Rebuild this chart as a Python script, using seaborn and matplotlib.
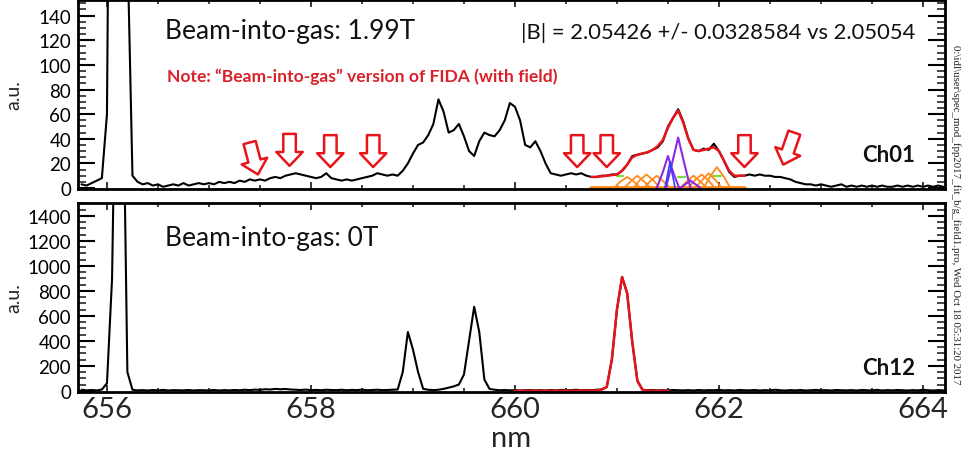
import numpy as np
import pandas as pd
import matplotlib
matplotlib.use("Agg")
import matplotlib.pyplot as plt
from matplotlib.ticker import MultipleLocator
import seaborn as sns

# ---------------- data ----------------
wl_start, wl_step = 655.75, 0.05

top_counts = [
    3, 2, 4, 6, 8, 60, 600, 1500, 1200, 200,
    10, 5, 3, 4, 2, 3, 1, 2, 3, 2,
    4, 2, 3, 4, 3, 4, 3, 5, 4, 5,
    4, 6, 5, 7, 6, 7, 6, 8, 9, 8,
    10, 11, 12, 11, 10, 9, 8, 9, 12, 8,
    7, 6, 7, 6, 7, 8, 9, 10, 12, 11,
    10, 11, 10, 14, 20, 28, 35, 37, 43, 52,
    72, 62, 45, 47, 52, 42, 30, 26, 38, 45,
    43, 42, 47, 55, 69, 66, 55, 35, 33, 38,
    30, 20, 12, 11, 10, 11, 12, 11, 12, 10,
    9, 9, 10, 10, 11, 11, 14, 19, 26, 27,
    28, 29, 31, 33, 38, 50, 57, 64, 54, 40,
    31, 30, 32, 31, 36, 30, 22, 13, 9, 10,
    10, 11, 10, 11, 10, 10, 9, 9, 8, 7,
    5, 4, 3, 3, 2, 3, 2, 1, 2, 3,
    1, 2, 1, 2, 1, 2, 1, 2, 1, 1,
    2, 1, 2, 1, 2, 1, 2, 1, 2, 1,
]

bot_counts = [
    8, 3, 6, 2, 10, 60, 900, 3500, 3000, 150,
    8, 3, 5, 2, 6, 3, 7, 2, 5, 4,
    3, 6, 2, 5, 4, 3, 6, 2, 5, 3,
    6, 4, 8, 5, 9, 7, 12, 10, 15, 12,
    14, 10, 8, 6, 9, 5, 7, 4, 8, 6,
    5, 8, 4, 7, 5, 9, 4, 6, 8, 5,
    6, 8, 10, 150, 470, 330, 150, 15, 8, 5,
    8, 15, 25, 35, 50, 130, 400, 672, 470, 90,
    15, 8, 4, 6, 3, 5, 2, 4, 6, 3,
    5, 2, 6, 3, 7, 4, 5, 8, 3, 6,
    5, 8, 10, 30, 250, 650, 910, 780, 390, 80,
    8, 4, 6, 3, 5, 2, 6, 4, 3, 5,
    2, 6, 3, 5, 4, 7, 3, 5, 2, 6,
    4, 3, 6, 2, 5, 3, 8, 4, 2, 5,
    3, 6, 2, 4, 7, 3, 5, 2, 6, 4,
    3, 5, 2, 6, 4, 3, 7, 2, 5, 3,
    6, 4, 2, 5, 3, 8, 4, 2, 5, 3,
]

# fit in top panel (red)
fit_top_wl = [660.75, 660.80, 660.85, 660.90, 660.95, 661.00, 661.05, 661.10, 661.15, 661.20,
              661.25, 661.30, 661.35, 661.40, 661.45, 661.50, 661.55, 661.60, 661.65, 661.70,
              661.75, 661.80, 661.85, 661.90, 661.95, 662.00, 662.05, 662.10, 662.15, 662.20, 662.25]
fit_top_val = [9, 9, 9.5, 10, 10.5, 11, 14, 19, 25, 27,
               28, 29, 31, 34, 39, 49, 57, 63, 53, 40,
               31, 30, 31, 32, 33, 30, 22, 14, 10, 10, 10]

# fit baseline (orange)
base_wl = [660.75, 662.25]
base_val = [0, 0]

# orange components
orange_wl = [
    [660.97, 661.03, 661.10, 661.17, 661.23],
    [661.07, 661.13, 661.20, 661.27, 661.33],
    [661.16, 661.22, 661.29, 661.36, 661.42],
    [661.26, 661.32, 661.39, 661.46, 661.52],
    [661.62, 661.68, 661.75, 661.82, 661.88],
    [661.70, 661.76, 661.83, 661.90, 661.96],
    [661.77, 661.83, 661.90, 661.97, 662.03],
    [661.85, 661.91, 661.98, 662.05, 662.11],
]
orange_val = [
    [0, 5, 9, 5, 0],
    [0, 5, 10, 5, 0],
    [0, 6, 11, 6, 0],
    [0, 5, 10, 5, 0],
    [0, 5, 10, 5, 0],
    [0, 6, 11, 6, 0],
    [0, 6, 12, 6, 0],
    [0, 9, 17, 9, 0],
]

# purple components
purple_wl = [
    [661.39, 661.45, 661.50, 661.55, 661.61],
    [661.48, 661.54, 661.60, 661.66, 661.72],
    [661.62, 661.67, 661.72, 661.77, 661.82],
]
purple_val = [
    [0, 13, 26, 13, 0],
    [0, 20, 41, 20, 0],
    [0, 3, 6, 3, 0],
]

# blue component
blue_wl = [661.47, 661.52, 661.57]
blue_val = [0, 21, 0]

# green segments
green_wl = [661.00, 661.06, np.nan, 661.60, 661.67, np.nan, 661.94, 662.02]
green_val = [10, 10, np.nan, 9, 9, np.nan, 10, 10]

# fit in bottom panel (red)
fit_bot_wl = [660.00, 660.20, 660.40, 660.60, 660.80, 660.85, 660.90, 660.95, 661.00, 661.05,
              661.10, 661.15, 661.20, 661.25, 661.30, 661.50]
fit_bot_val = [0, 0, 0, 0, 2, 10, 30, 250, 650, 910, 780, 390, 80, 8, 0, 0]

# arrow markers (tip positions)
arrow_wl = [657.48, 657.79, 658.19, 658.61, 660.61, 660.90, 662.25, 662.63]
arrow_val = [11, 18, 17, 17, 17, 17, 17, 19]
arrow_tilt = [-6, 0, 0, 0, 0, 0, 0, 8]   # horizontal offset of the arrow tail (points)

x_ticks = [656, 658, 660, 662, 664]

wl = wl_start + wl_step * np.arange(len(top_counts))
df_top = pd.DataFrame({"nm": wl, "au": top_counts})
df_bot = pd.DataFrame({"nm": wl, "au": bot_counts})

# ---------------- style ----------------
sns.set_style("white")
plt.rcParams["font.family"] = ["Lato", "DejaVu Sans"]

W, H = 964, 460
fig = plt.figure(figsize=(W / 100, H / 100), dpi=100)

def axbox(x0, y0, x1, y1):
    return [x0 / W, 1 - y1 / H, (x1 - x0) / W, (y1 - y0) / H]

ax1 = fig.add_axes(axbox(78, 1, 945, 190))
ax2 = fig.add_axes(axbox(78, 204, 945, 393))

RED = "#e8141c"
ORANGE = "#ff8a1c"
PURPLE = "#8a2be2"

# top panel
sns.lineplot(data=df_top, x="nm", y="au", ax=ax1, color="black", lw=1.5, estimator=None)
sns.lineplot(x=base_wl, y=base_val, ax=ax1, color=ORANGE, lw=3.5, estimator=None)
ax1.plot(green_wl, green_val, color="#7ddc3a", lw=1.6)
for xs, ys in zip(orange_wl, orange_val):
    sns.lineplot(x=xs, y=ys, ax=ax1, color=ORANGE, lw=1.3, estimator=None)
for xs, ys in zip(purple_wl, purple_val):
    sns.lineplot(x=xs, y=ys, ax=ax1, color=PURPLE, lw=1.5, estimator=None)
sns.lineplot(x=blue_wl, y=blue_val, ax=ax1, color="#3040ff", lw=1.2, estimator=None)
sns.lineplot(x=fit_top_wl, y=fit_top_val, ax=ax1, color=RED, lw=1.8, estimator=None)

for xw, yv, dx in zip(arrow_wl, arrow_val, arrow_tilt):
    ax1.annotate("", xy=(xw, yv), xytext=(dx, 23), textcoords="offset points",
                 arrowprops=dict(arrowstyle="simple,head_length=0.5,head_width=0.95,tail_width=0.45",
                                 mutation_scale=20, fc="white", ec=RED, lw=1.8,
                                 shrinkA=0, shrinkB=0))

# bottom panel
sns.lineplot(data=df_bot, x="nm", y="au", ax=ax2, color="black", lw=1.5, estimator=None)
sns.lineplot(x=fit_bot_wl, y=fit_bot_val, ax=ax2, color=RED, lw=1.8, estimator=None)

for ax, ylim, major, minor in [(ax1, (-0.8, 152.7), 20, 5), (ax2, (-10, 1502), 200, 50)]:
    ax.set_xlim(655.716, 664.216)
    ax.set_ylim(*ylim)
    ax.xaxis.set_major_locator(MultipleLocator(2))
    ax.xaxis.set_minor_locator(MultipleLocator(0.5))
    ax.yaxis.set_major_locator(MultipleLocator(major))
    ax.yaxis.set_minor_locator(MultipleLocator(minor))
    ax.tick_params(axis="y", which="major", direction="in", length=12, width=1.5,
                   left=True, right=True, labelsize=13.5, pad=5, colors="black")
    ax.tick_params(axis="y", which="minor", direction="in", length=6, width=1.2,
                   left=True, right=True)
    ax.tick_params(axis="x", which="major", direction="in", length=5, width=1.3,
                   top=True, bottom=True, labelsize=21, pad=3)
    ax.tick_params(axis="x", which="minor", direction="in", length=3, width=1.2,
                   top=True, bottom=True)
    for s in ax.spines.values():
        s.set_visible(True)
        s.set_color("black")
        s.set_linewidth(2)
    ax.set_ylabel("a.u.", fontsize=14)
    ax.yaxis.set_label_coords(-0.0646, 0.5)
    ax.set_xticks(x_ticks)

ax1.set_xlabel("")
ax1.tick_params(axis="x", labelbottom=False)
ax2.set_xlabel("nm", fontsize=21)
ax2.xaxis.label.set_va("center")
ax2.xaxis.set_label_coords(0.5, -0.243)

# texts
ax1.text(0.1003, 0.836, "Beam-into-gas: 1.99T", transform=ax1.transAxes,
         fontsize=19, ha="left", va="center", color="#111111")
ax1.text(0.9654, 0.831, "|B| = 2.05426 +/- 0.0328584 vs 2.05054", transform=ax1.transAxes,
         fontsize=15.8, ha="right", va="center", color="#111111")
ax1.text(0.1027, 0.598, "Note: \u201cBeam-into-gas\u201d version of FIDA (with field)",
         transform=ax1.transAxes, fontsize=12.6, fontweight="bold", ha="left", va="center",
         color="#d8222a")
ax1.text(0.9654, 0.185, "Ch01", transform=ax1.transAxes, fontsize=16, fontweight="bold",
         ha="right", va="center", color="#111111")
ax2.text(0.1003, 0.820, "Beam-into-gas: 0T", transform=ax2.transAxes,
         fontsize=19, ha="left", va="center", color="#111111")
ax2.text(0.9654, 0.132, "Ch12", transform=ax2.transAxes, fontsize=16, fontweight="bold",
         ha="right", va="center", color="#111111")

fig.text(956 / W, 1 - 215 / H,
         "0:\\idl\\user\\spec_mod_fpp2017_fit_b/g_field1.pro, Wed Oct 18 05:31:20 2017",
         rotation=270, fontsize=7.8, family=["Liberation Serif", "DejaVu Serif"],
         ha="center", va="center", color="#222222")

fig.savefig("out.png", dpi=100, facecolor="white")
